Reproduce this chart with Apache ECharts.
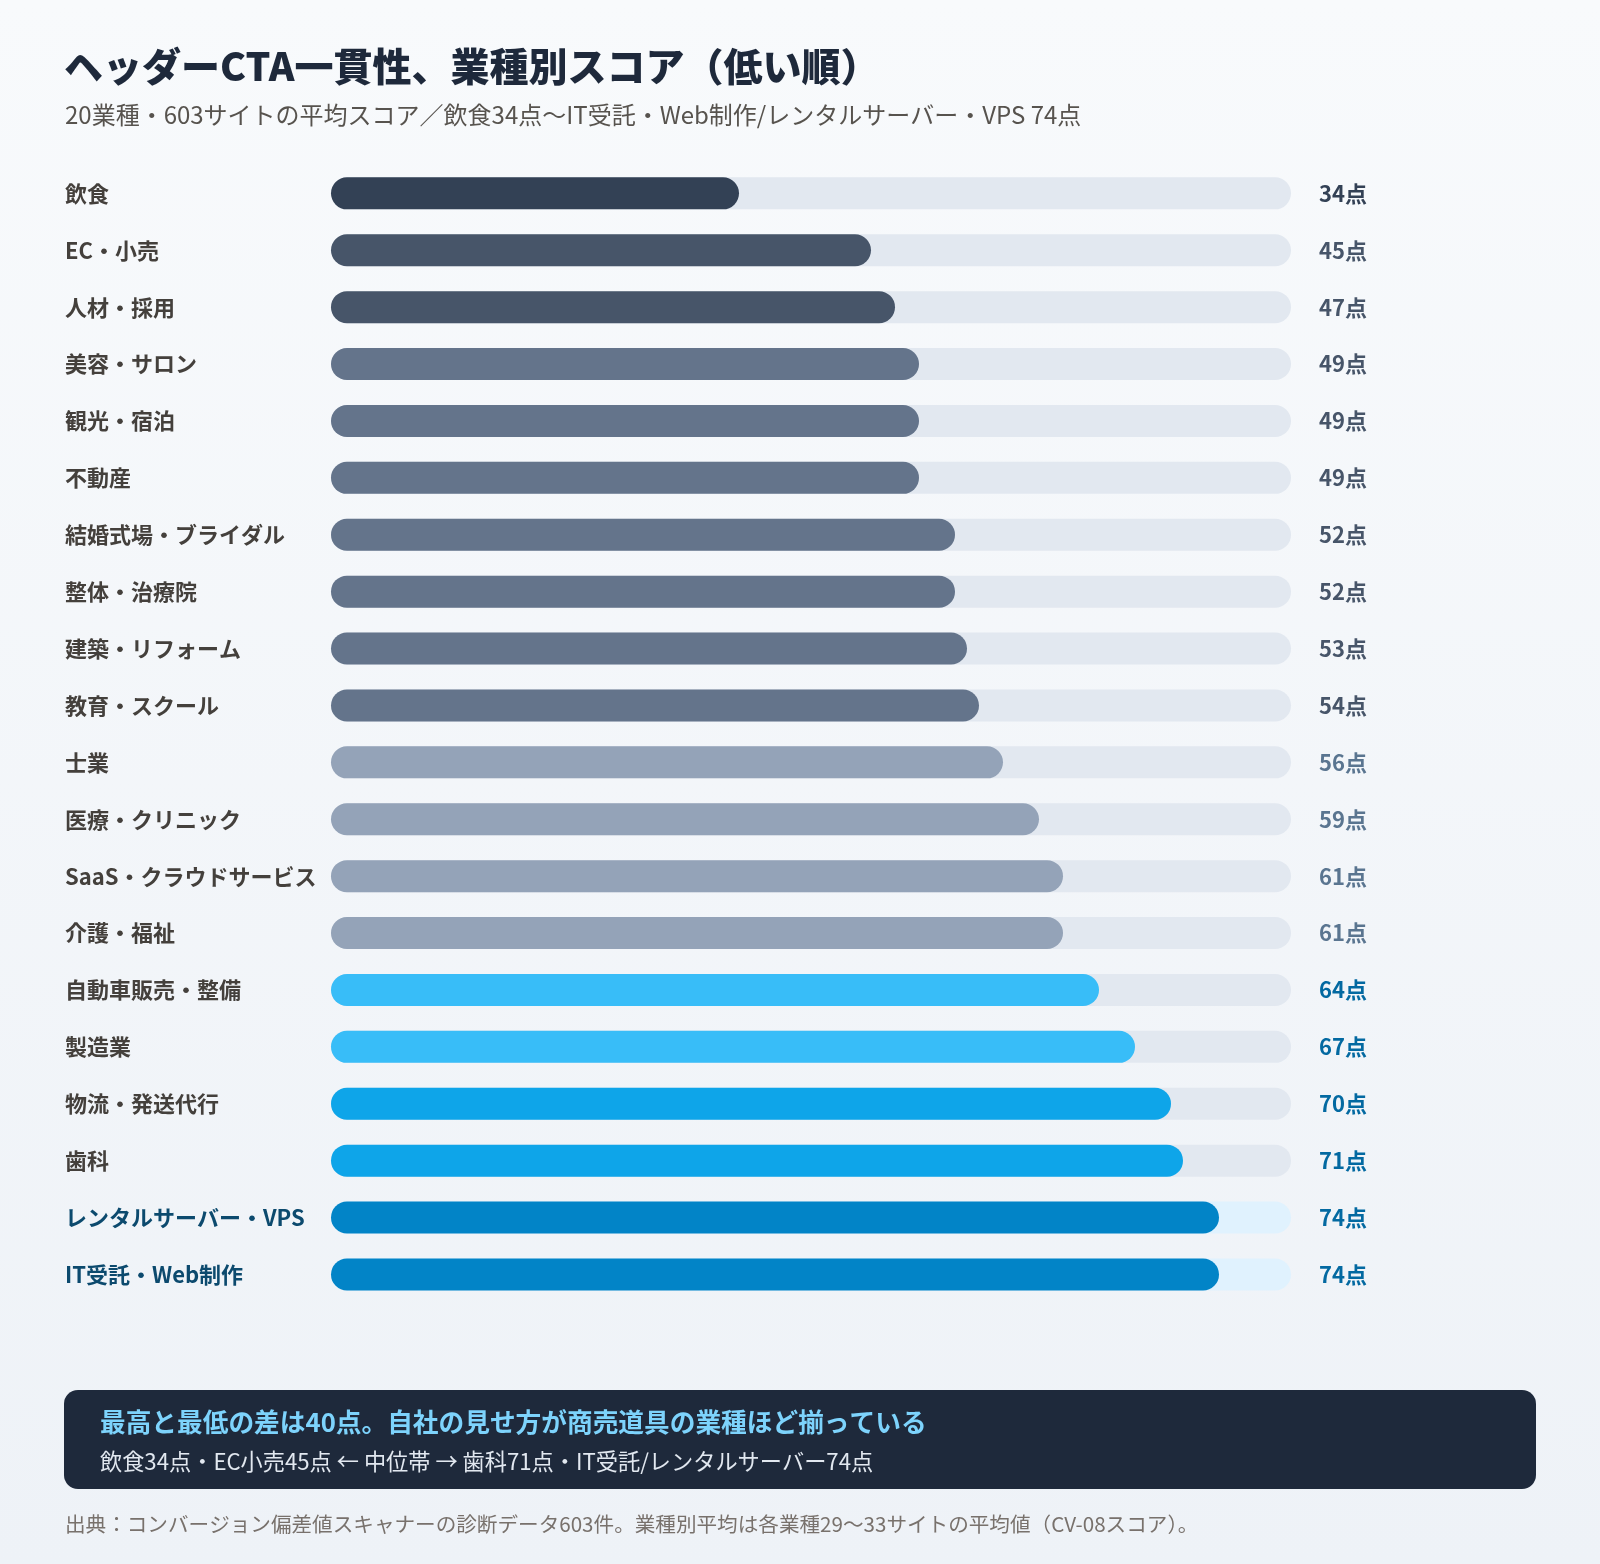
<!DOCTYPE html>
<html>
<head>
<meta charset="utf-8">
<script src="https://cdn.jsdelivr.net/npm/echarts@6/dist/echarts.min.js"></script>
<style>
  html, body { margin: 0; padding: 0; }
  body { width: 1600px; height: 1564px; background: #f3f5f9; }
  #chart { width: 1600px; height: 1564px; }
</style>
</head>
<body>
<div id="chart"></div>
<script>
// 業種（低い順）
const categories = [
  '飲食', 'EC・小売', '人材・採用', '美容・サロン', '観光・宿泊', '不動産',
  '結婚式場・ブライダル', '整体・治療院', '建築・リフォーム', '教育・スクール',
  '士業', '医療・クリニック', 'SaaS・クラウドサービス', '介護・福祉',
  '自動車販売・整備', '製造業', '物流・発送代行', '歯科',
  'レンタルサーバー・VPS', 'IT受託・Web制作'
];
const scores = [34, 45, 47, 49, 49, 49, 52, 52, 53, 54, 56, 59, 61, 61, 64, 67, 70, 71, 74, 74];
const scoreMax = 80;

const titleText = 'ヘッダーCTA一貫性、業種別スコア（低い順）';
const subtitleText = '20業種・603サイトの平均スコア／飲食34点〜IT受託・Web制作/レンタルサーバー・VPS 74点';
const noteTitle = '最高と最低の差は40点。自社の見せ方が商売道具の業種ほど揃っている';
const noteBody = '飲食34点・EC小売45点 ← 中位帯 → 歯科71点・IT受託/レンタルサーバー74点';
const sourceText = '出典：コンバージョン偏差値スキャナーの診断データ603件。業種別平均は各業種29〜33サイトの平均値（CV-08スコア）。';

const FONT = '"Noto Sans CJK JP", "Noto Sans", sans-serif';
const topScore = Math.max(...scores);

// スコア帯ごとの色
function barColor(v) {
  if (v >= 74) return '#0284c7';
  if (v >= 70) return '#0ea5e9';
  if (v >= 64) return '#38bdf8';
  if (v >= 56) return '#94a3b8';
  if (v >= 49) return '#64748b';
  if (v >= 45) return '#475569';
  return '#334155';
}
function valueKey(v) {
  if (v >= 64) return 'blue';
  if (v >= 56) return 'light';
  if (v >= 45) return 'mid';
  return 'dark';
}

const chart = echarts.init(document.getElementById('chart'));

chart.setOption({
  backgroundColor: {
    type: 'linear', x: 0, y: 0, x2: 0, y2: 1,
    colorStops: [{ offset: 0, color: '#f8fafc' }, { offset: 1, color: '#eef2f7' }]
  },
  animation: false,
  textStyle: { fontFamily: FONT },
  grid: { left: 331, width: 960, top: 164.9, height: 1138 },
  xAxis: {
    type: 'value', min: 0, max: scoreMax,
    show: false
  },
  yAxis: {
    type: 'category',
    data: categories,
    inverse: true,
    axisLine: { show: false },
    axisTick: { show: false },
    axisLabel: {
      align: 'left',
      margin: 266,
      formatter: (name, i) => scores[i] === topScore ? '{hi|' + name + '}' : '{n|' + name + '}',
      rich: {
        n: { fontFamily: FONT, fontSize: 22, fontWeight: 'bold', color: '#44403c' },
        hi: { fontFamily: FONT, fontSize: 22, fontWeight: 'bold', color: '#0c4a6e' }
      }
    }
  },
  series: [
    {
      type: 'bar',
      barWidth: 32,
      silent: true,
      data: scores.map(v => ({
        value: scoreMax,
        itemStyle: { color: v === topScore ? '#e0f2fe' : '#e2e8f0', borderRadius: 16 }
      })),
      label: {
        show: true,
        position: 'right',
        distance: 28,
        formatter: p => '{' + valueKey(scores[p.dataIndex]) + '|' + scores[p.dataIndex] + '点}',
        rich: {
          dark: { fontFamily: FONT, fontSize: 22, fontWeight: 'bold', color: '#334155' },
          mid: { fontFamily: FONT, fontSize: 22, fontWeight: 'bold', color: '#475569' },
          light: { fontFamily: FONT, fontSize: 22, fontWeight: 'bold', color: '#5a7590' },
          blue: { fontFamily: FONT, fontSize: 22, fontWeight: 'bold', color: '#0369a1' }
        }
      }
    },
    {
      type: 'bar',
      barWidth: 32,
      barGap: '-100%',
      data: scores.map(v => ({
        value: v,
        itemStyle: { color: barColor(v), borderRadius: 16 }
      }))
    }
  ],
  graphic: [
    {
      type: 'text', left: 64, top: 47,
      style: { text: titleText, font: '900 39px ' + FONT, fill: '#1e293b' }
    },
    {
      type: 'text', left: 65, top: 103,
      style: { text: subtitleText, font: '24px ' + FONT, fill: '#57534e' }
    },
    {
      type: 'rect',
      shape: { x: 64, y: 1390, width: 1472, height: 99, r: 14 },
      style: { fill: '#1e293b' }
    },
    {
      type: 'text', left: 100, top: 1409,
      style: { text: noteTitle, font: 'bold 25.7px ' + FONT, fill: '#7dd3fc' }
    },
    {
      type: 'text', left: 100, top: 1450,
      style: { text: noteBody, font: '22.2px ' + FONT, fill: '#e2e8f0' }
    },
    {
      type: 'text', left: 65, top: 1514,
      style: { text: sourceText, font: '20.6px ' + FONT, fill: '#78716c' }
    }
  ]
});
</script>
</body>
</html>
